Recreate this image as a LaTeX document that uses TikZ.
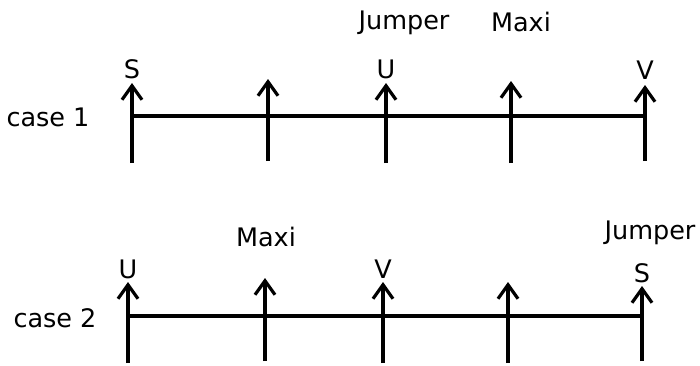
\documentclass[tikz,border=0pt]{standalone}
\usepackage{fontspec}
\setmainfont{DejaVu Sans}
\usetikzlibrary{arrows.meta}
\begin{document}
\begin{tikzpicture}[x=1pt,y=-1pt,line width=3.2pt,
  up/.style={-{Straight Barb[length=14pt,width=20pt,line width=3.2pt]}},
  lbl/.style={font=\fontsize{25.5}{30}\selectfont,inner sep=0pt,text=black}]
\useasboundingbox (0,0) rectangle (700,365);
% case 1
\coordinate (a1b) at (132,163); \coordinate (a1t) at (132,83); \coordinate (a1m) at (132,116);
\coordinate (a2b) at (268,161); \coordinate (a2t) at (268,79);
\coordinate (a3b) at (386,163); \coordinate (a3t) at (386,83);
\coordinate (a4b) at (511,163); \coordinate (a4t) at (511,81);
\coordinate (a5b) at (645,161); \coordinate (a5t) at (645,85); \coordinate (a5m) at (645,116);
\draw (a1m) -- (a5m);
\foreach \i in {1,...,5} \draw[up] (a\i b) -- (a\i t);
\node[lbl] (case1) at (48,117) {case 1};
\node[lbl] (s1) at (132,69) {S};
\node[lbl] (u1) at (386,69) {U};
\node[lbl] (v1) at (645,70) {V};
\node[lbl] (j1) at (404,23) {Jumper};
\node[lbl] (m1) at (521,22) {Maxi};
% case 2
\coordinate (b1b) at (128,363); \coordinate (b1t) at (128,282); \coordinate (b1m) at (128,316);
\coordinate (b2b) at (265,361); \coordinate (b2t) at (265,278);
\coordinate (b3b) at (383,363); \coordinate (b3t) at (383,282);
\coordinate (b4b) at (508,363); \coordinate (b4t) at (508,282);
\coordinate (b5b) at (642,361); \coordinate (b5t) at (642,286); \coordinate (b5m) at (642,316);
\draw (b1m) -- (b5m);
\foreach \i in {1,...,5} \draw[up] (b\i b) -- (b\i t);
\node[lbl] (case2) at (55,318) {case 2};
\node[lbl] (u2) at (128,269) {U};
\node[lbl] (v2) at (383,269) {V};
\node[lbl] (s2) at (642,273) {S};
\node[lbl] (m2) at (266,237) {Maxi};
\node[lbl] (j2) at (650,233) {Jumper};
\end{tikzpicture}
\end{document}
